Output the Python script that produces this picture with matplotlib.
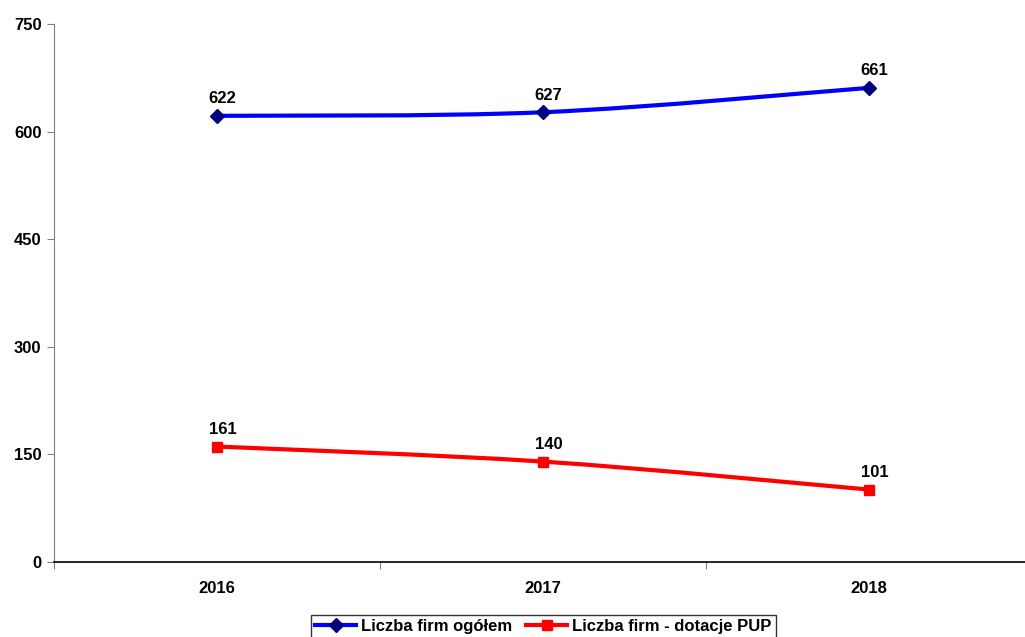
import matplotlib.pyplot as plt
from matplotlib.path import Path
from matplotlib.patches import PathPatch
from matplotlib.lines import Line2D
import numpy as np

plt.rcParams["font.family"] = ["Liberation Sans", "DejaVu Sans"]
plt.rcParams["font.weight"] = "bold"

years = ["2016", "2017", "2018"]
total = [622, 627, 661]
pup = [161, 140, 101]

series = [
    ("Liczba firm ogółem", total, "#0000FF", "#000080", "D", 7),
    ("Liczba firm - dotacje PUP", pup, "#FF0000", "#FF0000", "s", 7),
]

fig = plt.figure(figsize=(10.25, 6.37), dpi=100)
ax = fig.add_axes([0.0527, 0.1177, 0.954, 0.8446])

x = np.arange(len(years))


def smooth_path(xs, ys, t=1 / 6):
    # Catmull-Rom style bezier through the points (like Excel's smoothed line)
    pts = list(zip(xs, ys))
    verts = [pts[0]]
    codes = [Path.MOVETO]
    for i in range(len(pts) - 1):
        p0 = pts[i - 1] if i > 0 else pts[i]
        p1 = pts[i]
        p2 = pts[i + 1]
        p3 = pts[i + 2] if i + 2 < len(pts) else pts[i + 1]
        c1 = (p1[0] + (p2[0] - p0[0]) * t, p1[1] + (p2[1] - p0[1]) * t)
        c2 = (p2[0] - (p3[0] - p1[0]) * t, p2[1] - (p3[1] - p1[1]) * t)
        verts += [c1, c2, p2]
        codes += [Path.CURVE4] * 3
    return Path(verts, codes)


handles = []
for label, vals, lc, mc, mk, ms in series:
    ax.add_patch(PathPatch(smooth_path(x, vals), fill=False, edgecolor=lc, lw=3, zorder=2))
    ax.plot(x, vals, linestyle="none", marker=mk, markersize=ms,
            color=mc, markeredgecolor=mc, zorder=3)
    for xi, v in zip(x, vals):
        ax.annotate(str(v), (xi, v), xytext=(4, 7), textcoords="offset points",
                    ha="center", va="bottom", fontsize=12, fontweight="bold")
    handles.append(Line2D([], [], color=lc, lw=3, marker=mk, markersize=ms,
                          markerfacecolor=mc, markeredgecolor=mc))

ax.set_xlim(-0.5, 2.5)
ax.set_ylim(0, 750)
ax.set_yticks([0, 150, 300, 450, 600, 750])
ax.set_xticks([-0.5, 0.5, 1.5, 2.5])
ax.set_xticklabels([])
ax.set_xticks(x, minor=True)
ax.set_xticklabels(years, minor=True)
ax.tick_params(axis="x", which="minor", length=0, pad=14, labelsize=12)
ax.tick_params(axis="x", which="major", length=5, color="#808080")
ax.tick_params(axis="y", length=5, color="#808080", labelsize=12, pad=4)
for t in ax.get_yticklabels() + ax.get_xticklabels(minor=True):
    t.set_fontweight("bold")

ax.spines["top"].set_visible(False)
ax.spines["right"].set_visible(False)
ax.spines["left"].set_color("#808080")
ax.spines["bottom"].set_color("black")
ax.spines["bottom"].set_linewidth(1.2)

leg = fig.legend(handles, [s[0] for s in series], loc="lower center",
                 bbox_to_anchor=(0.53, -0.015), ncol=2, frameon=True, fancybox=False,
                 edgecolor="black", fontsize=12, handlelength=2.5,
                 columnspacing=0.8, handletextpad=0.3, borderpad=0.25)
for t in leg.get_texts():
    t.set_fontweight("bold")

fig.savefig("out.png", dpi=100)
